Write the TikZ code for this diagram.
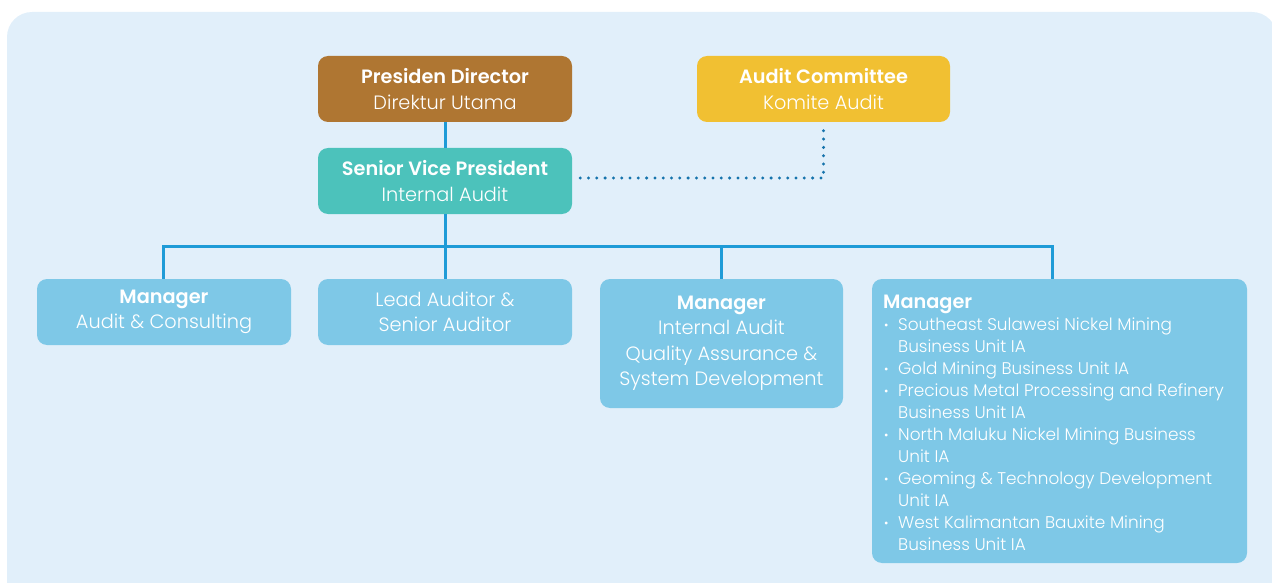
\documentclass[tikz,border=0pt]{standalone}
\usepackage{fontspec}
\setmainfont{Poppins}[UprightFont=* Light, BoldFont=* SemiBold]
\definecolor{bgc}{HTML}{E1EFFA}
\definecolor{brownc}{HTML}{AF7632}
\definecolor{yellowc}{HTML}{F1C032}
\definecolor{tealc}{HTML}{4CC2BB}
\definecolor{bluec}{HTML}{7EC8E7}
\definecolor{linec}{HTML}{1E9BD7}
\definecolor{dotc}{HTML}{1573AC}
\tikzset{
  box/.style={rounded corners=10pt, inner sep=0pt, text=white, align=center,
    font=\fontsize{19.3}{25.5}\selectfont, minimum width=254pt, minimum height=66pt},
  conn/.style={draw=linec, line width=3pt},
  dotline/.style={draw=dotc, line width=3.3pt, line cap=round, dash pattern=on 0pt off 8.3pt},
}
\newcommand{\bul}{\makebox[15pt][l]{\hspace{1pt}{\fontsize{12}{12}\selectfont\raisebox{1.5pt}{•}}}}
\newcommand{\ind}{\hspace*{15pt}}
\begin{document}
\begin{tikzpicture}[x=1pt,y=-1pt]
\useasboundingbox (0,0) rectangle (1272,583);
\fill[bgc, rounded corners=25pt] (7,12) rectangle (1277,610);

\node[box, fill=brownc] (pd) at (445,89) {\textbf{Presiden Director}\\Direktur Utama};
\node[box, fill=yellowc, minimum width=253pt] (ac) at (823.5,89) {\textbf{Audit Committee}\\Komite Audit};
\node[box, fill=tealc] (svp) at (445,181) {\textbf{Senior Vice President}\\Internal Audit};
\node[box, fill=bluec] (m1) at (164,312) {\textbf{Manager}\\Audit \& Consulting};
\node[box, fill=bluec] (la) at (445,312) {Lead Auditor \&\\Senior Auditor};
\node[box, fill=bluec, minimum width=243pt, minimum height=129pt] (m2) at (721.5,343.5)
  {\textbf{Manager}\\Internal Audit\\Quality Assurance \&\\System Development};
\node[box, fill=bluec, minimum width=375pt, minimum height=284pt] (m3) at (1059.5,421) {};
\node[anchor=north west, inner sep=0pt, text=white, align=left,
  font=\fontsize{16.9}{22}\selectfont] (m3t) at (883,295)
  {{\fontsize{19.3}{25}\selectfont\textbf{Manager}}\\
   \bul Southeast Sulawesi Nickel Mining\\
   \ind Business Unit IA\\
   \bul Gold Mining Business Unit IA\\
   \bul Precious Metal Processing and Refinery\\
   \ind Business Unit IA\\
   \bul North Maluku Nickel Mining Business\\
   \ind Unit IA\\
   \bul Geoming \& Technology Development\\
   \ind Unit IA\\
   \bul West Kalimantan Bauxite Mining\\
   \ind Business Unit IA};

\coordinate (busL) at (163,246);
\coordinate (busM) at (445,246);
\coordinate (busR) at (1052,246);

\draw[conn] (pd.south) -- (svp.north);
\draw[conn] (svp.south) -- (busM);
\draw[conn] (m1.north -| busL) -- (busL) -- (busR) -- (busR |- m3.north);
\draw[conn] (busM) -- (la.north);
\draw[conn] (m2.north |- busM) -- (m2.north);
\draw[dotline] ([xshift=8pt,yshift=3pt]svp.east) -- ([yshift=3pt]svp.east -| ac.south) -- ([yshift=-6pt]ac.south);
\end{tikzpicture}
\end{document}
